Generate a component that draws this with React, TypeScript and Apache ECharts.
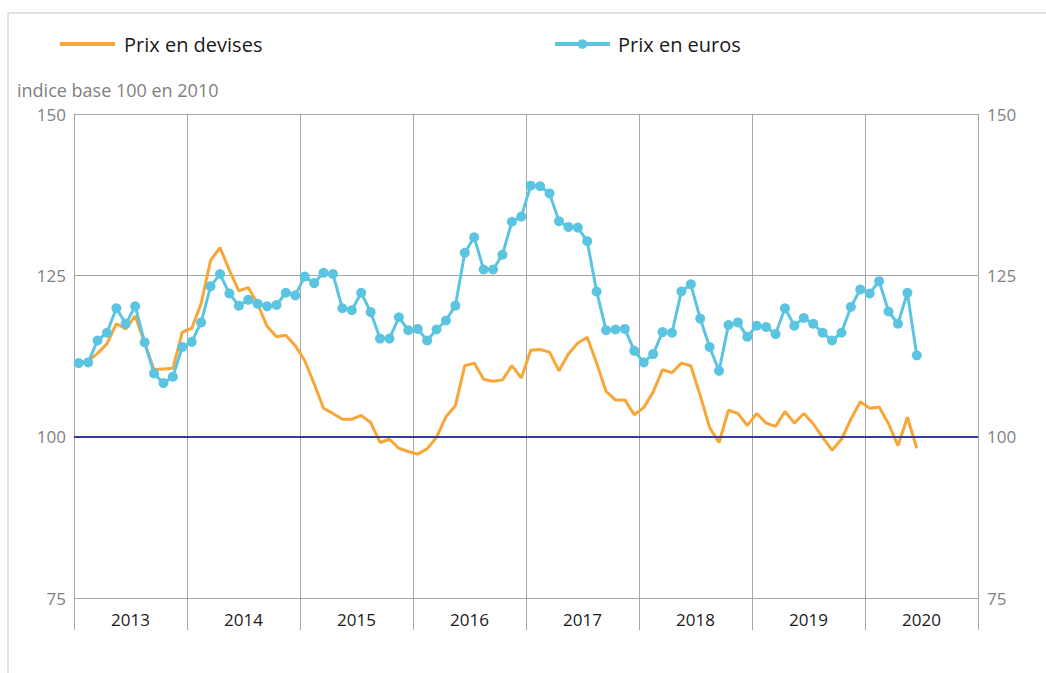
import React, { useEffect, useRef } from "react";
import * as echarts from "echarts";

const years = ["2013", "2014", "2015", "2016", "2017", "2018", "2019", "2020"];
const months: string[] = [];
for (const y of years) for (let m = 1; m <= 12; m++) months.push(`${y}-${m}`);

const prixDevises = [
  111.4, 111.7, 112.9, 114.4, 117.5, 116.7, 118.7, 114.5, 110.4, 110.5, 110.6, 116.2,
  116.8, 120.6, 127.3, 129.3, 125.8, 122.6, 123.1, 120.6, 117.1, 115.5, 115.7, 114.1,
  111.8, 108.2, 104.4, 103.6, 102.7, 102.7, 103.3, 102.2, 99.1, 99.6, 98.2, 97.7,
  97.3, 98.1, 99.9, 103.1, 104.8, 111.0, 111.4, 108.9, 108.6, 108.8, 111.0, 109.1,
  113.4, 113.5, 113.1, 110.2, 112.8, 114.5, 115.4, 111.4, 107.0, 105.7, 105.7, 103.4,
  104.5, 106.9, 110.4, 109.9, 111.4, 111.0, 106.4, 101.4, 99.1, 104.1, 103.6, 101.7,
  103.6, 102.1, 101.6, 103.9, 102.1, 103.6, 102.0, 99.9, 97.9, 99.6, 102.7, 105.4,
  104.4, 104.6, 102.0, 98.6, 103.0, 98.2,
];

const prixEuros = [
  111.4, 111.5, 114.9, 116.1, 119.9, 117.5, 120.2, 114.6, 109.8, 108.3, 109.3, 113.9,
  114.7, 117.7, 123.3, 125.2, 122.2, 120.3, 121.2, 120.6, 120.2, 120.4, 122.3, 121.9,
  124.8, 123.8, 125.4, 125.2, 119.9, 119.6, 122.3, 119.3, 115.2, 115.2, 118.5, 116.5,
  116.7, 114.9, 116.6, 118.0, 120.3, 128.5, 130.9, 125.9, 125.9, 128.2, 133.3, 134.1,
  138.9, 138.8, 137.7, 133.4, 132.5, 132.4, 130.3, 122.5, 116.5, 116.6, 116.7, 113.3,
  111.5, 112.8, 116.2, 116.1, 122.5, 123.6, 118.3, 113.9, 110.2, 117.3, 117.7, 115.5,
  117.2, 117.0, 115.9, 119.9, 117.2, 118.4, 117.5, 116.1, 114.9, 116.1, 120.1, 122.8,
  122.2, 124.1, 119.4, 117.5, 122.3, 112.6,
];

const FONT = "'Open Sans', 'Noto Sans', sans-serif";
const GRID_GRAY = "#a6a6a6";
const LABEL_GRAY = "#7f7f7f";
const ORANGE = "#f8a637";
const BLUE = "#5bc5e1";
const NAVY = "#3a3a98";

export default function App() {
  const ref = useRef<HTMLDivElement>(null);
  useEffect(() => {
    if (!ref.current) return;
    const chart = echarts.init(ref.current, null, { renderer: "svg" });
    chart.setOption({
      animation: false,
      backgroundColor: "#ffffff",
      textStyle: { fontFamily: FONT },
      graphic: [
        { type: "line", shape: { x1: 8, y1: 13, x2: 1046, y2: 13 }, style: { stroke: "#e2e2e2", lineWidth: 2 } },
        { type: "line", shape: { x1: 8, y1: 13, x2: 8, y2: 673 }, style: { stroke: "#e2e2e2", lineWidth: 2 } },
        {
          type: "text",
          left: 17,
          top: 81,
          style: { text: "indice base 100 en 2010", fill: LABEL_GRAY, font: `18px ${FONT}` },
        },
      ],
      legend: [
        {
          data: [{ name: "Prix en devises", icon: "rect" }],
          left: 55,
          top: 29,
          itemWidth: 55,
          itemHeight: 4,
          itemStyle: { color: ORANGE },
          textStyle: { color: "#1a1a1a", fontSize: 20, fontFamily: FONT, padding: [0, 0, 0, 4] },
        },
        {
          data: ["Prix en euros"],
          left: 548,
          top: 29,
          itemWidth: 55,
          itemHeight: 12,
          lineStyle: { width: 4 },
          textStyle: { color: "#1a1a1a", fontSize: 20, fontFamily: FONT, padding: [0, 0, 0, 3] },
        },
      ],
      grid: { left: 74, right: 68, top: 114, bottom: 75, containLabel: false },
      xAxis: [
        {
          type: "category",
          data: years,
          boundaryGap: true,
          position: "bottom",
          axisLine: { show: true, lineStyle: { color: GRID_GRAY, width: 1 } },
          axisTick: { show: true, length: 32, lineStyle: { color: GRID_GRAY } },
          axisLabel: { color: "#1a1a1a", fontSize: 17, fontFamily: FONT, margin: 13 },
          splitLine: { show: true, lineStyle: { color: GRID_GRAY, width: 1 } },
        },
        {
          type: "category",
          data: months,
          boundaryGap: true,
          position: "bottom",
          show: false,
        },
      ],
      yAxis: [
        {
          type: "value",
          min: 75,
          max: 150,
          interval: 25,
          position: "left",
          axisLine: { show: true, lineStyle: { color: GRID_GRAY } },
          axisTick: { show: false },
          axisLabel: { color: LABEL_GRAY, fontSize: 17, fontFamily: FONT, margin: 8 },
          splitLine: { show: true, lineStyle: { color: GRID_GRAY, width: 1 } },
        },
        {
          type: "value",
          min: 75,
          max: 150,
          interval: 25,
          position: "right",
          axisLine: { show: true, lineStyle: { color: GRID_GRAY } },
          axisTick: { show: false },
          axisLabel: { color: LABEL_GRAY, fontSize: 17, fontFamily: FONT, margin: 9 },
          splitLine: { show: false },
        },
      ],
      series: [
        {
          name: "Prix en devises",
          type: "line",
          xAxisIndex: 1,
          yAxisIndex: 0,
          data: prixDevises,
          symbol: "none",
          lineStyle: { color: ORANGE, width: 3 },
          itemStyle: { color: ORANGE },
          markLine: {
            silent: true,
            symbol: "none",
            label: { show: false },
            lineStyle: { color: NAVY, width: 2, type: "solid" },
            data: [{ yAxis: 100 }],
          },
          z: 2,
        },
        {
          name: "Prix en euros",
          type: "line",
          xAxisIndex: 1,
          yAxisIndex: 0,
          data: prixEuros,
          symbol: "circle",
          symbolSize: 10,
          showSymbol: true,
          showAllSymbol: true,
          lineStyle: { color: BLUE, width: 3 },
          itemStyle: { color: BLUE },
          z: 3,
        },
      ],
    });
    return () => chart.dispose();
  }, []);
  return <div ref={ref} style={{ width: 1046, height: 673, position: "absolute", left: 0, top: 0 }} />;
}
